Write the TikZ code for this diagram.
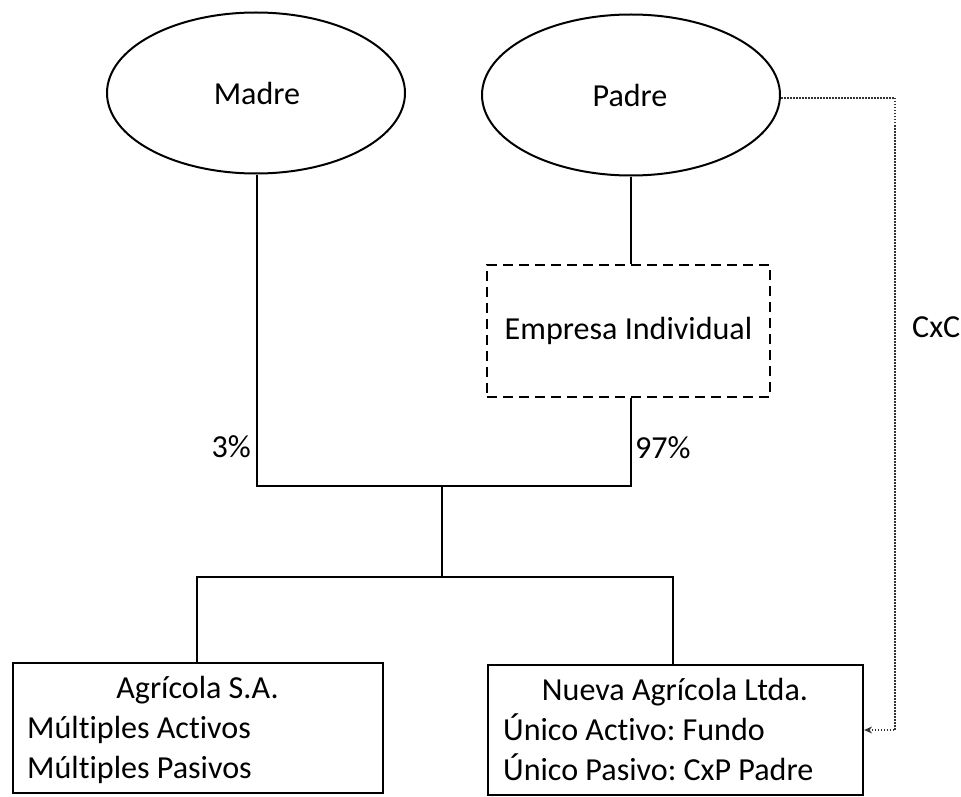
\documentclass[tikz,border=0pt]{standalone}
\usepackage{fontspec}
\setmainfont{Carlito}[Ligatures={NoCommon,NoContextual}]
\usetikzlibrary{shapes.geometric,arrows.meta}
\tikzset{
  person/.style={draw, ellipse, line width=2pt, minimum width=298pt, minimum height=161pt, inner sep=0pt},
  dashbox/.style={draw, line width=2pt, dash pattern=on 10pt off 6pt, minimum width=283pt, minimum height=132pt, inner sep=0pt},
  cobox/.style={draw, line width=2.2pt, inner sep=0pt},
  conn/.style={line width=2.2pt},
  dotconn/.style={line width=1.2pt, draw=black!80, dash pattern=on 1.5pt off 1.5pt},
  lbl/.style={inner sep=0pt}
}
\newlength\twd
\begin{document}
\settowidth\twd{\fontsize{10pt}{12pt}\selectfont\frenchspacing Empresa IndividualÚnico Pasivo: CxP PadreMúltiples ActivosNueva Agrícola Ltda.Agrícola S.A.MadrePadre}%
\pgfmathsetmacro\fsz{10*1371/\twd}%
\begin{tikzpicture}[x=1pt,y=-1pt, font=\fontsize{\fsz}{40}\selectfont\frenchspacing]
\useasboundingbox (0,0) rectangle (961,797);
\node[person] (madre) at (256,93) {};
\node[person] (padre) at (631,95) {};
\node[lbl, anchor=base] (madret) at (257,105) {Madre};
\node[lbl, anchor=base] (padret) at (630,107) {Padre};
\node[dashbox] (emp) at (628.5,331) {Empresa Individual};
\node[cobox, minimum width=370pt, minimum height=130pt] (agri) at (198,728) {};
\node[cobox, minimum width=375pt, minimum height=130pt] (nueva) at (675.5,730) {};
\node[lbl, anchor=base] (agrit) at (197.5,698) {Agrícola S.A.};
\node[lbl, anchor=base west] (agri1) at (27,738) {Múltiples Activos};
\node[lbl, anchor=base west] (agri2) at (27,778) {Múltiples Pasivos};
\node[lbl, anchor=base] (nuevat) at (675,700) {Nueva Agrícola Ltda.};
\node[lbl, anchor=base west] (nueva1) at (503,740) {Único Activo: Fundo};
\node[lbl, anchor=base west] (nueva2) at (503,780) {Único Pasivo: CxP Padre};
\node[lbl, anchor=base east] (p3) at (251,457) {3\%};
\node[lbl, anchor=base west] (p97) at (635,458) {97\%};
\node[lbl, anchor=base west] (cxc) at (912,337) {CxC};
\coordinate (jm) at (257,486);
\coordinate (jp) at (631,486);
\coordinate (jc) at (442,486);
\coordinate (jb) at (442,577);
\coordinate (bl) at (197,577);
\coordinate (br) at (673,577);
\coordinate (dt) at (895,98);
\coordinate (dc) at (895,730);
\draw[conn] (madre.south -| jm) -- (jm) -- (jp) -- (emp.south -| jp);
\draw[conn] (padre.south -| jp) -- (emp.north -| jp);
\draw[conn] (jc) -- (jb);
\draw[conn] (bl |- agri.north) -- (bl) -- (br) -- (br |- nueva.north);
\draw[dotconn, -{Stealth[length=8pt,width=7pt]}] (padre.east |- dt) -- (dt) -- (dc) -- (nueva.east |- dc);
\end{tikzpicture}
\end{document}
